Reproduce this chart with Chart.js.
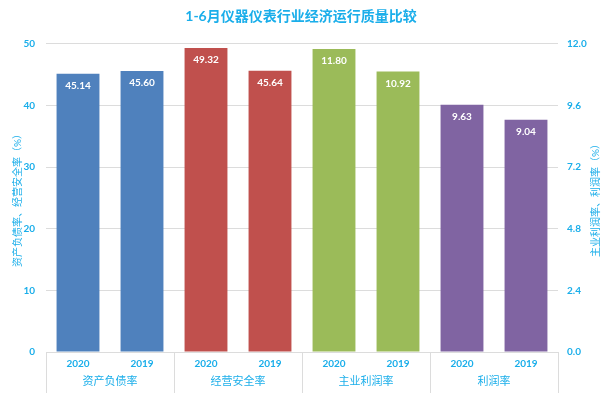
<!DOCTYPE html>
<html>
<head>
<meta charset="utf-8">
<script src="https://cdn.jsdelivr.net/npm/chart.js@4.4.1/dist/chart.umd.min.js"></script>
<style>
  html, body { margin: 0; padding: 0; background: #fff; }
  #wrap { width: 602px; height: 393px; }
</style>
</head>
<body>
<div id="wrap"><canvas id="chart"></canvas></div>
<script>
const years = ["2020", "2019", "2020", "2019", "2020", "2019", "2020", "2019"];
const groups = ["资产负债率", "经营安全率", "主业利润率", "利润率"];
const debtRatio = [45.14, 45.60];
const safetyRatio = [49.32, 45.64];
const mainProfitRatio = [11.80, 10.92];
const profitRatio = [9.63, 9.04];
const leftTitle = "资产负债率、经营安全率（%）";
const rightTitle = "主业利润率、利润率（%）";

const txtColor = "#1aaeea";
const gridColor = "#dcdcdc";
const fam = 'Lato, "Noto Sans CJK SC", sans-serif';

// put each pair into its own slot of the 8 categories
function place(vals, slot) {
  const out = new Array(8).fill(null);
  out[slot * 2] = vals[0];
  out[slot * 2 + 1] = vals[1];
  return out;
}

const barLabels = {
  id: "barLabels",
  afterDatasetsDraw(chart) {
    const ctx = chart.ctx;
    ctx.save();
    ctx.fillStyle = "#ffffff";
    ctx.font = "bold 10px " + fam;
    ctx.textAlign = "center";
    ctx.textBaseline = "middle";
    chart.data.datasets.forEach((ds, i) => {
      chart.getDatasetMeta(i).data.forEach((el, j) => {
        if (ds.data[j] == null) return;
        ctx.fillText(ds.data[j].toFixed(2), el.x, el.y + 12);
      });
    });
    ctx.restore();
  }
};

const groupLines = {
  id: "groupLines",
  afterDraw(chart) {
    const ctx = chart.ctx;
    const x = chart.scales.x;
    const area = chart.chartArea;
    const xs = [area.left];
    for (let i = 1; i < 4; i++) {
      xs.push((x.getPixelForValue(i * 2 - 1) + x.getPixelForValue(i * 2)) / 2);
    }
    xs.push(area.right);
    ctx.save();
    ctx.strokeStyle = gridColor;
    ctx.lineWidth = 1;
    xs.forEach(px => {
      const p = Math.round(px) + 0.5;
      ctx.beginPath();
      ctx.moveTo(p, area.bottom);
      ctx.lineTo(p, chart.height);
      ctx.stroke();
    });
    // right axis title, reading bottom to top like the left one
    ctx.fillStyle = txtColor;
    ctx.font = "10px " + fam;
    ctx.textAlign = "center";
    ctx.textBaseline = "middle";
    ctx.translate(596, (area.top + area.bottom) / 2);
    ctx.rotate(-Math.PI / 2);
    ctx.fillText(rightTitle, 0, 0);
    ctx.restore();
  }
};

new Chart(document.getElementById("chart"), {
  type: "bar",
  data: {
    labels: years,
    datasets: [
      { data: place(debtRatio, 0), backgroundColor: "#4f81bd", yAxisID: "y" },
      { data: place(safetyRatio, 1), backgroundColor: "#c0504d", yAxisID: "y" },
      { data: place(mainProfitRatio, 2), backgroundColor: "#9bbb59", yAxisID: "y1" },
      { data: place(profitRatio, 3), backgroundColor: "#8064a2", yAxisID: "y1" }
    ]
  },
  options: {
    responsive: true,
    maintainAspectRatio: false,
    animation: false,
    layout: { padding: 0 },
    datasets: {
      bar: { grouped: false, categoryPercentage: 1, barPercentage: 0.67 }
    },
    plugins: {
      legend: { display: false },
      tooltip: { enabled: false },
      title: {
        display: true,
        text: "1-6月仪器仪表行业经济运行质量比较",
        color: txtColor,
        font: { family: fam, size: 14, weight: "bold" },
        padding: { top: 8, bottom: 19 }
      }
    },
    scales: {
      x: {
        offset: true,
        grid: { display: false, drawTicks: false },
        border: { display: true, color: gridColor },
        ticks: { color: txtColor, font: { family: fam, size: 10, weight: "bold" }, padding: 6, maxRotation: 0, autoSkip: false },
        afterFit: s => { s.height = 22; }
      },
      x2: {
        type: "category",
        labels: groups,
        position: "bottom",
        offset: true,
        grid: { display: false, drawTicks: false },
        border: { display: false },
        ticks: { color: txtColor, font: { family: fam, size: 11 }, padding: 1, maxRotation: 0 },
        afterFit: s => { s.height = 19; }
      },
      y: {
        position: "left",
        min: 0,
        max: 50,
        ticks: { stepSize: 10, color: txtColor, font: { family: fam, size: 10, weight: "bold" }, padding: 11 },
        grid: { color: gridColor, drawTicks: false },
        border: { display: false },
        title: {
          display: true,
          text: leftTitle,
          color: txtColor,
          font: { family: fam, size: 10 },
          padding: { top: 12, bottom: 0 }
        },
        afterFit: s => { s.width = 46; }
      },
      y1: {
        position: "right",
        min: 0,
        max: 12,
        ticks: {
          stepSize: 2.4,
          color: txtColor,
          font: { family: fam, size: 10, weight: "bold" },
          padding: 9,
          callback: v => v.toFixed(1)
        },
        grid: { drawOnChartArea: false, drawTicks: false },
        border: { display: false },
        afterFit: s => { s.width = 44; }
      }
    }
  },
  plugins: [barLabels, groupLines]
});
</script>
</body>
</html>
